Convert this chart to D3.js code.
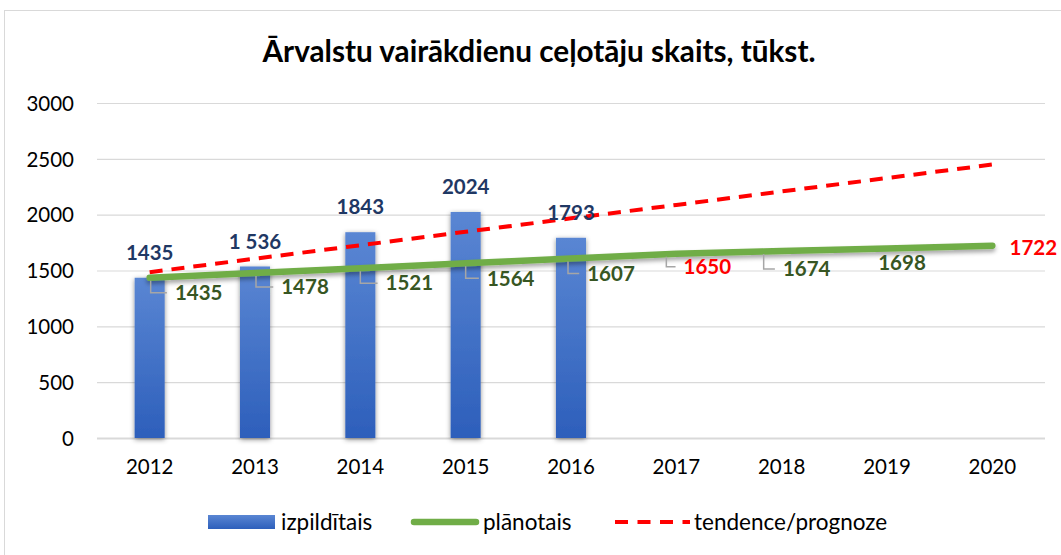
<!DOCTYPE html>
<html><head><meta charset="utf-8">
<script src="https://cdn.jsdelivr.net/npm/d3@7"></script>
<style>
html,body{margin:0;padding:0;background:#fff;}
svg{display:block;font-family:Lato,"Open Sans",sans-serif;}
</style></head>
<body><svg id="c" width="1061" height="555"></svg>
<script>
const years = ["2012","2013","2014","2015","2016","2017","2018","2019","2020"];
const actual = [1435,1536,1843,2024,1793];
const actualLabels = ["1435","1 536","1843","2024","1793"];
const planned = [1435,1478,1521,1564,1607,1650,1674,1698,1722];
const trend = [1485,1606,1726,1847,1967,2087,2208,2328,2449];
const yTicks = [0,500,1000,1500,2000,2500,3000];
const title = "Ārvalstu vairākdienu ceļotāju skaits, tūkst.";
const legendNames = ["izpildītais","plānotais","tendence/prognoze"];

// layout (not data)
const plannedLabelOffset = [[49,15],[50,14],[49,15],[45,15],[40,15],[31,13],[25,18],[15,14],[41,2]];
const plannedLabelRed = [false,false,false,false,false,true,false,false,true];
const leaderDx = [1,1,0,0,-3,-10,-18,null,null];

const svg = d3.select("#c");
const defs = svg.append("defs");
const grad = defs.append("linearGradient").attr("id","bg").attr("x1",0).attr("y1",0).attr("x2",0).attr("y2",1);
grad.append("stop").attr("offset","0%").attr("stop-color","#5a86d3");
grad.append("stop").attr("offset","100%").attr("stop-color","#2d5fbb");
const sh = defs.append("filter").attr("id","sh").attr("x","-50%").attr("y","-20%").attr("width","200%").attr("height","140%");
sh.append("feDropShadow").attr("dx",0).attr("dy",1.5).attr("stdDeviation",2.5).attr("flood-color","#000").attr("flood-opacity",0.45);
const shl = defs.append("filter").attr("id","shl").attr("x","-5%").attr("y","-100%").attr("width","110%").attr("height","300%");
shl.append("feDropShadow").attr("dx",0).attr("dy",3).attr("stdDeviation",2).attr("flood-color","#000").attr("flood-opacity",0.35);

// border
svg.append("rect").attr("x",4.5).attr("y",10.5).attr("width",1070).attr("height",560)
  .attr("fill","#fff").attr("stroke","#d9d9d9").attr("stroke-width",1);

const x = d3.scaleBand().domain(years).range([97,1045]).padding(0);
const y = d3.scaleLinear().domain([0,3000]).range([438,103]);
const cx = d => x(d) + x.bandwidth()/2;

// title
svg.append("text").attr("x",539).attr("y",62).attr("text-anchor","middle")
  .attr("font-size",29.7).attr("font-weight","bold").attr("fill","#000").text(title);

// gridlines
svg.append("g").selectAll("line").data(yTicks).join("line")
  .attr("x1",97).attr("x2",1045).attr("y1",d=>y(d)+0.5).attr("y2",d=>y(d)+0.5)
  .attr("stroke","#d9d9d9").attr("stroke-width",d=>d===0?2:1.2);

// y axis
const yAxis = d3.axisLeft(y).tickValues(yTicks).tickSize(0).tickPadding(0).tickFormat(d3.format("d"));
const yg = svg.append("g").attr("transform","translate(74,0)").call(yAxis);
yg.select(".domain").remove();
yg.selectAll("text").attr("font-size",20.5).attr("fill","#000").attr("font-family","Lato,sans-serif").attr("dy","0.35em");

// x axis
const xAxis = d3.axisBottom(x).tickSize(0).tickPadding(0);
const xg = svg.append("g").attr("transform","translate(0,467)").call(xAxis);
xg.select(".domain").remove();
xg.selectAll("text").attr("font-size",20.5).attr("fill","#000").attr("font-family","Lato,sans-serif").attr("dy","0.35em");

// bars
const bw = x.bandwidth()*0.285;
svg.append("g").selectAll("rect").data(actual).join("rect")
  .attr("x",(d,i)=>cx(years[i])-bw/2).attr("width",bw)
  .attr("y",d=>y(d)).attr("height",d=>y(0)-y(d))
  .attr("fill","url(#bg)").attr("filter","url(#sh)");

// trend line
const line = d3.line().x((d,i)=>cx(years[i])).y(d=>y(d));
svg.append("path").datum(trend).attr("d",line).attr("fill","none")
  .attr("stroke","#ff0000").attr("stroke-width",4).attr("stroke-dasharray","13,9");

// planned line
svg.append("path").datum(planned).attr("d",line).attr("fill","none")
  .attr("stroke","#70ad47").attr("stroke-width",6.5).attr("stroke-linecap","round")
  .attr("filter","url(#shl)");

// bar labels
svg.append("g").selectAll("text").data(actual).join("text")
  .attr("x",(d,i)=>cx(years[i])).attr("y",d=>y(d)-25).attr("dy","0.35em")
  .attr("text-anchor","middle").attr("font-size",20.5).attr("font-weight","bold")
  .attr("fill","#1f3864").text((d,i)=>actualLabels[i]);

// planned labels + leaders
const lg = svg.append("g");
planned.forEach((v,i)=>{
  const px = cx(years[i]), py = y(v);
  const lx = px + plannedLabelOffset[i][0], ly = py + plannedLabelOffset[i][1];
  const t = lg.append("text").attr("x",lx).attr("y",ly).attr("dy","0.35em")
    .attr("text-anchor","middle").attr("font-size",20.5).attr("font-weight","bold")
    .attr("fill",plannedLabelRed[i]?"#ff0000":"#375623").text(v);
  if(leaderDx[i]!==null){
    const w = t.node().getComputedTextLength();
    const left = lx - w/2 - 8;
    const vx = px + leaderDx[i];
    lg.append("path").attr("d",`M${vx},${py+3}V${ly}H${left}`)
      .attr("fill","none").attr("stroke","#a6a6a6").attr("stroke-width",1.5);
  }
});

// legend
const leg = svg.append("g");
const ly0 = 522;
leg.append("rect").attr("x",208).attr("y",ly0-7).attr("width",67).attr("height",14).attr("fill","url(#bg)");
leg.append("text").attr("x",281).attr("y",ly0).attr("dy","0.35em").attr("font-size",22.5).attr("fill","#000").text(legendNames[0]);
leg.append("line").attr("x1",414).attr("x2",476).attr("y1",ly0).attr("y2",ly0)
  .attr("stroke","#70ad47").attr("stroke-width",6.5).attr("stroke-linecap","round");
leg.append("text").attr("x",483).attr("y",ly0).attr("dy","0.35em").attr("font-size",22.5).attr("fill","#000").text(legendNames[1]);
leg.append("line").attr("x1",615).attr("x2",690).attr("y1",ly0).attr("y2",ly0)
  .attr("stroke","#ff0000").attr("stroke-width",4).attr("stroke-dasharray","13,9.5");
leg.append("text").attr("x",694).attr("y",ly0).attr("dy","0.35em").attr("font-size",22.5).attr("fill","#000").text(legendNames[2]);
</script></body></html>
